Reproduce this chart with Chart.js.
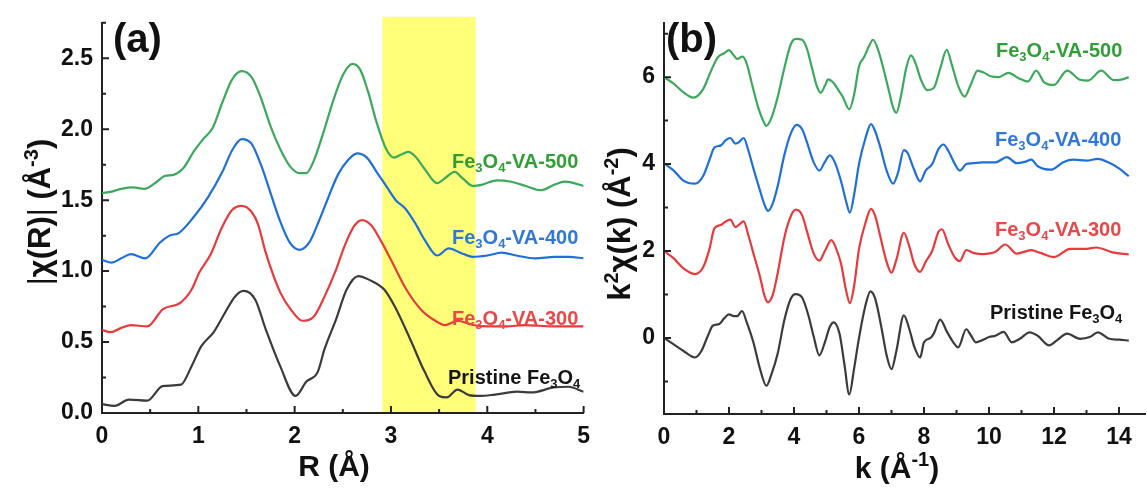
<!DOCTYPE html>
<html>
<head>
<meta charset="utf-8">
<script src="https://cdn.jsdelivr.net/npm/chart.js@4.4.1/dist/chart.umd.min.js"></script>
<style>
  html, body { margin: 0; padding: 0; background: #fff; }
  #wrap { position: relative; width: 1147px; height: 492px; overflow: hidden; }
  #wrap canvas { position: absolute; top: 0; }
  #chartR { left: 0; }
  #chartK { left: 580px; }
</style>
</head>
<body>
<div id="wrap">
  <canvas id="chartR" width="600" height="492"></canvas>
  <canvas id="chartK" width="567" height="492"></canvas>
</div>
<script>
// ---- (a) |chi(R)| curves, offset per sample ----
const R_500  = [0, 0.1, 0.2, 0.32, 0.44, 0.55, 0.65, 0.75, 0.85, 0.95, 1.05, 1.15, 1.25, 1.35, 1.45, 1.55, 1.65, 1.75, 1.85, 1.95, 2.05, 2.12, 2.2, 2.3, 2.4, 2.5, 2.6, 2.68, 2.76, 2.85, 2.95, 3.03, 3.1, 3.18, 3.25, 3.35, 3.48, 3.57, 3.66, 3.75, 3.85, 3.95, 4.1, 4.25, 4.4, 4.56, 4.7, 4.8, 4.9, 5.0];
const FT_500 = [1.55, 1.56, 1.58, 1.59, 1.58, 1.62, 1.67, 1.68, 1.73, 1.84, 1.93, 2.01, 2.19, 2.35, 2.41, 2.37, 2.22, 2.02, 1.86, 1.74, 1.69, 1.69, 1.78, 1.98, 2.2, 2.38, 2.46, 2.42, 2.27, 2.05, 1.86, 1.8, 1.82, 1.84, 1.81, 1.72, 1.62, 1.66, 1.7, 1.65, 1.6, 1.61, 1.64, 1.63, 1.6, 1.57, 1.61, 1.63, 1.62, 1.6];

const R_400  = [0, 0.1, 0.2, 0.3, 0.45, 0.6, 0.7, 0.8, 0.95, 1.1, 1.25, 1.35, 1.45, 1.55, 1.65, 1.75, 1.85, 1.95, 2.05, 2.15, 2.25, 2.35, 2.45, 2.55, 2.65, 2.75, 2.85, 2.95, 3.05, 3.15, 3.25, 3.35, 3.48, 3.6, 3.72, 3.85, 4.0, 4.15, 4.3, 4.5, 4.7, 4.85, 5.0];
const FT_400 = [1.08, 1.06, 1.09, 1.12, 1.09, 1.2, 1.25, 1.27, 1.38, 1.52, 1.7, 1.85, 1.93, 1.9, 1.75, 1.55, 1.35, 1.2, 1.15, 1.2, 1.35, 1.52, 1.68, 1.78, 1.83, 1.8, 1.7, 1.6, 1.5, 1.44, 1.34, 1.22, 1.11, 1.16, 1.13, 1.1, 1.11, 1.13, 1.11, 1.09, 1.1, 1.1, 1.09];

const R_300  = [0, 0.09, 0.2, 0.3, 0.47, 0.63, 0.82, 0.93, 1.01, 1.13, 1.24, 1.35, 1.45, 1.55, 1.62, 1.7, 1.85, 1.97, 2.08, 2.2, 2.31, 2.43, 2.52, 2.62, 2.7, 2.8, 2.89, 3.0, 3.16, 3.31, 3.46, 3.56, 3.69, 3.85, 4.0, 4.2, 4.38, 4.69, 5.0];
const FT_300 = [0.585, 0.57, 0.6, 0.62, 0.61, 0.73, 0.78, 0.87, 0.99, 1.12, 1.3, 1.43, 1.46, 1.42, 1.33, 1.13, 0.85, 0.72, 0.65, 0.68, 0.82, 1.01, 1.18, 1.32, 1.36, 1.32, 1.22, 1.08, 0.87, 0.73, 0.65, 0.62, 0.65, 0.62, 0.61, 0.61, 0.62, 0.61, 0.61];

const R_PRI  = [0, 0.13, 0.28, 0.47, 0.63, 0.82, 0.93, 1.03, 1.16, 1.28, 1.38, 1.47, 1.59, 1.7, 1.85, 2.01, 2.12, 2.24, 2.31, 2.43, 2.54, 2.66, 2.77, 2.93, 3.04, 3.2, 3.35, 3.5, 3.58, 3.69, 3.81, 3.92, 4.08, 4.31, 4.46, 4.69, 4.84, 5.0];
const FT_PRI = [0.063, 0.05, 0.094, 0.087, 0.19, 0.2, 0.33, 0.47, 0.57, 0.71, 0.82, 0.86, 0.8, 0.59, 0.33, 0.12, 0.22, 0.29, 0.45, 0.66, 0.87, 0.965, 0.94, 0.87, 0.75, 0.52, 0.29, 0.12, 0.11, 0.165, 0.126, 0.12, 0.13, 0.15, 0.145, 0.18, 0.185, 0.15];

const R_TICKS  = [0, 1, 2, 3, 4, 5];
const R_MINOR  = [0.5, 1.5, 2.5, 3.5, 4.5];
const FT_TICKS = [0, 0.5, 1, 1.5, 2, 2.5];
const FT_MINOR = [0.25, 0.75, 1.25, 1.75, 2.25, 2.75];
const R_BAND   = [2.91, 3.88];

// ---- (b) k^2 chi(k) curves, offset per sample ----
const K_500    = [0, 0.3, 0.6, 0.9, 1.2, 1.45, 1.65, 1.85, 2.0, 2.15, 2.25, 2.42, 2.55, 2.7, 2.9, 3.05, 3.15, 3.3, 3.5, 3.7, 3.9, 4.05, 4.25, 4.4, 4.55, 4.7, 4.82, 4.95, 5.05, 5.2, 5.35, 5.5, 5.7, 5.85, 6.0, 6.15, 6.3, 6.43, 6.6, 6.75, 6.9, 7.05, 7.15, 7.3, 7.45, 7.6, 7.75, 7.9, 8.1, 8.3, 8.5, 8.7, 8.85, 9.05, 9.25, 9.45, 9.65, 9.85, 10.05, 10.3, 10.6, 10.9, 11.2, 11.45, 11.7, 12.0, 12.4, 12.8, 13.05, 13.45, 13.85, 14.1, 14.3];
const KCHI_500 = [6.0, 5.85, 5.65, 5.53, 5.72, 6.15, 6.45, 6.55, 6.62, 6.5, 6.42, 6.47, 6.3, 5.86, 5.3, 5.0, 4.88, 5.05, 5.55, 6.2, 6.75, 6.88, 6.86, 6.65, 6.22, 5.8, 5.64, 5.8, 5.95, 5.88, 5.72, 5.55, 5.26, 5.6, 6.25, 6.45, 6.7, 6.86, 6.6, 6.2, 5.75, 5.3, 5.18, 5.6, 6.2, 6.5, 6.3, 5.95, 5.7, 5.75, 6.2, 6.63, 6.3, 5.8, 5.55, 5.85, 6.15, 6.1, 6.02, 6.0, 6.1, 5.98, 5.9, 6.15, 5.88, 5.82, 6.15, 5.94, 5.92, 6.15, 5.93, 5.95, 6.0];

const K_400    = [0, 0.3, 0.6, 0.95, 1.2, 1.4, 1.55, 1.75, 1.9, 2.04, 2.2, 2.3, 2.45, 2.6, 2.75, 2.95, 3.1, 3.2, 3.35, 3.5, 3.7, 3.9, 4.08, 4.25, 4.4, 4.6, 4.78, 4.95, 5.1, 5.25, 5.45, 5.6, 5.72, 5.85, 6.0, 6.2, 6.37, 6.5, 6.65, 6.85, 7.05, 7.2, 7.38, 7.5, 7.68, 7.88, 8.05, 8.25, 8.45, 8.6, 8.75, 8.95, 9.1, 9.3, 9.5, 9.8, 10.2, 10.55, 10.85, 11.1, 11.3, 11.5, 11.9, 12.3, 12.6, 13.0, 13.35, 13.7, 14.0, 14.3];
const KCHI_400 = [4.02, 3.85, 3.62, 3.55, 3.72, 4.1, 4.38, 4.43, 4.55, 4.6, 4.47, 4.5, 4.6, 4.3, 3.9, 3.4, 3.05, 2.92, 3.1, 3.5, 4.2, 4.7, 4.9, 4.8, 4.5, 4.05, 3.85, 4.05, 4.2, 4.05, 3.6, 3.15, 2.88, 3.3, 4.0, 4.6, 4.92, 4.75, 4.4, 3.85, 3.55, 3.8, 4.32, 4.25, 3.9, 3.6, 3.85, 4.0, 4.35, 4.45, 4.3, 4.0, 3.85, 4.0, 4.02, 4.04, 4.04, 4.16, 4.02, 4.05, 4.1, 3.95, 3.87, 4.05, 4.1, 4.08, 4.12, 4.03, 3.9, 3.72];

const K_300    = [0, 0.3, 0.6, 0.95, 1.2, 1.4, 1.55, 1.75, 1.9, 2.04, 2.2, 2.3, 2.45, 2.6, 2.75, 2.95, 3.1, 3.2, 3.35, 3.5, 3.7, 3.9, 4.06, 4.25, 4.4, 4.6, 4.78, 4.95, 5.15, 5.3, 5.45, 5.6, 5.72, 5.85, 6.0, 6.2, 6.37, 6.5, 6.65, 6.85, 7.0, 7.15, 7.38, 7.55, 7.7, 7.88, 8.05, 8.25, 8.45, 8.55, 8.75, 8.95, 9.1, 9.3, 9.55, 9.8, 10.2, 10.5, 10.85, 11.3, 11.6, 12.0, 12.5, 13.0, 13.3, 13.8, 14.3];
const KCHI_300 = [2.0, 1.83, 1.6, 1.47, 1.62, 2.05, 2.52, 2.6, 2.68, 2.72, 2.55, 2.6, 2.68, 2.35, 1.95, 1.42, 0.95, 0.82, 1.0, 1.5, 2.3, 2.8, 2.95, 2.82, 2.45, 1.95, 1.78, 2.0, 2.25, 2.05, 1.7, 1.1, 0.8, 1.2, 2.05, 2.65, 2.97, 2.8, 2.35, 1.75, 1.5, 1.8, 2.42, 2.1, 1.7, 1.52, 1.75, 2.0, 2.45, 2.5, 2.15, 1.85, 1.77, 2.02, 1.95, 1.93, 1.98, 2.15, 1.94, 2.02, 1.95, 1.86, 2.05, 2.05, 2.08, 1.97, 1.92];

const K_PRI    = [0, 0.3, 0.6, 0.95, 1.15, 1.35, 1.5, 1.7, 1.85, 2.0, 2.15, 2.25, 2.4, 2.55, 2.75, 2.95, 3.15, 3.3, 3.5, 3.7, 3.9, 4.05, 4.25, 4.45, 4.6, 4.78, 4.95, 5.1, 5.22, 5.4, 5.55, 5.7, 5.85, 6.0, 6.2, 6.35, 6.5, 6.7, 6.85, 7.0, 7.15, 7.38, 7.55, 7.7, 7.88, 8.0, 8.2, 8.3, 8.5, 8.7, 8.9, 9.05, 9.3, 9.45, 9.6, 9.8, 10.0, 10.2, 10.45, 10.7, 10.95, 11.25, 11.5, 11.85, 12.1, 12.4, 12.8, 13.1, 13.35, 13.7, 14.0, 14.3];
const KCHI_PRI = [0.0, -0.15, -0.3, -0.45, -0.3, 0.05, 0.28, 0.32, 0.45, 0.54, 0.5, 0.5, 0.62, 0.35, -0.1, -0.7, -1.1, -0.85, -0.35, 0.4, 0.9, 1.01, 0.93, 0.5, 0.05, -0.4, -0.1, 0.25, 0.36, 0.1, -0.6, -1.3, -0.7, 0.0, 0.75, 1.07, 0.9, 0.2, -0.4, -0.72, -0.3, 0.52, 0.2, -0.2, -0.45, -0.1, 0.0, 0.1, 0.42, 0.15, -0.1, -0.22, 0.2, 0.05, -0.1, -0.05, 0.02, 0.05, 0.14, -0.1, -0.02, 0.13, 0.05, -0.17, -0.05, 0.1, -0.02, 0.02, 0.13, -0.02, -0.04, -0.06];

const K_TICKS    = [0, 2, 4, 6, 8, 10, 12, 14];
const K_MINOR    = [1, 3, 5, 7, 9, 11, 13];
const KCHI_TICKS = [0, 2, 4, 6];
const KCHI_MINOR = [-1, 1, 3, 5, 7];

const COLORS = { va500: '#3ca85c', va400: '#1e6fd8', va300: '#e63a3c', pristine: '#3b3b3b' };
const TEXT_COLORS = { va500: '#2f9f35', va400: '#2f78d8', va300: '#e84848', pristine: '#151515' };

const FONT = '"Liberation Sans", Arial, sans-serif';
const AXIS = '#222';

// rich text: parts are [text, kind] with kind '', 'sup', 'sub' or 'thin'
function drawRich(ctx, parts, x, y, size, color, align, rotate) {
  ctx.save();
  ctx.translate(x, y);
  if (rotate) ctx.rotate(-Math.PI / 2);
  ctx.fillStyle = color;
  ctx.textBaseline = 'alphabetic';
  ctx.textAlign = 'left';
  const fontFor = k => {
    const s = (k === 'sup' || k === 'sub') ? Math.round(size * 0.65) : size;
    return (k === 'thin' ? 'normal ' : 'bold ') + s + 'px ' + FONT;
  };
  let total = 0;
  parts.forEach(([t, k]) => { ctx.font = fontFor(k); total += ctx.measureText(t).width; });
  let cx = align === 'center' ? -total / 2 : (align === 'right' ? -total : 0);
  parts.forEach(([t, k]) => {
    ctx.font = fontFor(k);
    const dy = k === 'sup' ? -size * 0.4 : (k === 'sub' ? size * 0.22 : 0);
    ctx.fillText(t, cx, dy);
    cx += ctx.measureText(t).width;
  });
  ctx.restore();
}

const feLabel = tail => [['Fe', ''], ['3', 'sub'], ['O', ''], ['4', 'sub'], [tail, '']];
const pristineLabel = [['Pristine Fe', ''], ['3', 'sub'], ['O', ''], ['4', 'sub']];

// band, inward tick marks and all free text
const decor = {
  id: 'decor',
  beforeDraw(chart, args, opts) {
    if (!opts.band) return;
    const ctx = chart.ctx, a = chart.chartArea, xs = chart.scales.x;
    const l = xs.getPixelForValue(opts.band[0]), r = xs.getPixelForValue(opts.band[1]);
    ctx.save();
    ctx.fillStyle = '#ffff7a';
    ctx.fillRect(l, a.top - 6, r - l, a.bottom - a.top + 5);
    ctx.restore();
  },
  afterDraw(chart, args, opts) {
    const ctx = chart.ctx, a = chart.chartArea, xs = chart.scales.x, ys = chart.scales.y;
    ctx.save();
    ctx.strokeStyle = AXIS;
    ctx.lineWidth = 2;
    ctx.beginPath();
    opts.xMajor.forEach(v => { const p = xs.getPixelForValue(v); ctx.moveTo(p, a.bottom); ctx.lineTo(p, a.bottom - 7); });
    opts.xMinor.forEach(v => { const p = xs.getPixelForValue(v); ctx.moveTo(p, a.bottom); ctx.lineTo(p, a.bottom - 4); });
    opts.yMajor.forEach(v => { const p = ys.getPixelForValue(v); ctx.moveTo(a.left, p); ctx.lineTo(a.left + 7, p); });
    opts.yMinor.forEach(v => { const p = ys.getPixelForValue(v); ctx.moveTo(a.left, p); ctx.lineTo(a.left + 4, p); });
    ctx.stroke();
    ctx.restore();
    opts.texts.forEach(t => drawRich(ctx, t.parts, t.x, t.y, t.size, t.color, t.align, t.rotate));
  }
};

function buildChart(id, o) {
  const datasets = o.series.map(s => ({
    data: s.x.map((x, i) => ({ x, y: s.y[i] })),
    borderColor: s.color,
    borderWidth: 2.2,
    pointRadius: 0,
    cubicInterpolationMode: 'monotone',
    fill: false
  }));
  const tickFont = { family: FONT, size: 23, weight: 'bold' };
  return new Chart(document.getElementById(id), {
    type: 'line',
    data: { datasets },
    plugins: [decor],
    options: {
      responsive: false,
      animation: false,
      events: [],
      layout: { padding: o.padding },
      plugins: { legend: { display: false }, tooltip: { enabled: false }, decor: o.decor },
      scales: {
        x: {
          type: 'linear', min: o.xRange[0], max: o.xRange[1],
          afterBuildTicks: sc => { sc.ticks = o.xTicks.map(v => ({ value: v })); },
          afterFit: sc => { sc.height = o.xAxisHeight; },
          grid: { display: false, drawTicks: false },
          border: { display: true, color: AXIS, width: 2 },
          ticks: { font: tickFont, color: '#111', padding: 10, maxRotation: 0, autoSkip: false, callback: o.xFmt }
        },
        y: {
          type: 'linear', min: o.yRange[0], max: o.yRange[1],
          afterBuildTicks: sc => { sc.ticks = o.yTicks.map(v => ({ value: v })); },
          afterFit: sc => { sc.width = o.yAxisWidth; },
          grid: { display: false, drawTicks: false },
          border: { display: true, color: AXIS, width: 2 },
          ticks: { font: tickFont, color: '#111', padding: 9, autoSkip: false, callback: o.yFmt }
        }
      }
    }
  });
}

// (a) Fourier transform magnitude
buildChart('chartR', {
  series: [
    { x: R_PRI, y: FT_PRI, color: COLORS.pristine },
    { x: R_300, y: FT_300, color: COLORS.va300 },
    { x: R_400, y: FT_400, color: COLORS.va400 },
    { x: R_500, y: FT_500, color: COLORS.va500 }
  ],
  padding: { top: 22, right: 14, bottom: 0, left: 0 },
  xRange: [0, 5], yRange: [0, 2.75],
  xTicks: R_TICKS, yTicks: FT_TICKS,
  xAxisHeight: 79, yAxisWidth: 102,
  xFmt: v => String(v), yFmt: v => v.toFixed(1),
  decor: {
    band: R_BAND,
    xMajor: R_TICKS, xMinor: R_MINOR, yMajor: FT_TICKS, yMinor: FT_MINOR,
    texts: [
      { parts: [['(a)', '']], x: 113, y: 52, size: 40, color: '#111', align: 'left' },
      { parts: feLabel('-VA-500'), x: 452, y: 168, size: 20, color: TEXT_COLORS.va500, align: 'left' },
      { parts: feLabel('-VA-400'), x: 452, y: 244, size: 20, color: TEXT_COLORS.va400, align: 'left' },
      { parts: feLabel('-VA-300'), x: 452, y: 325, size: 20, color: TEXT_COLORS.va300, align: 'left' },
      { parts: pristineLabel, x: 448, y: 384, size: 20, color: TEXT_COLORS.pristine, align: 'left' },
      { parts: [['R (Å)', '']], x: 334, y: 476, size: 30, color: '#111', align: 'center' },
      { parts: [['|', 'thin'], ['χ(R)', ''], ['|', 'thin'], [' (Å', ''], ['-3', 'sup'], [')', '']],
        x: 50, y: 212, size: 31, color: '#111', align: 'center', rotate: true }
    ]
  }
});

// (b) k-weighted oscillations
buildChart('chartK', {
  series: [
    { x: K_PRI, y: KCHI_PRI, color: COLORS.pristine },
    { x: K_300, y: KCHI_300, color: COLORS.va300 },
    { x: K_400, y: KCHI_400, color: COLORS.va400 },
    { x: K_500, y: KCHI_500, color: COLORS.va500 }
  ],
  padding: { top: 22, right: 2, bottom: 0, left: 0 },
  xRange: [0, 14.8], yRange: [-1.75, 7.25],
  xTicks: K_TICKS, yTicks: KCHI_TICKS,
  xAxisHeight: 78, yAxisWidth: 84,
  xFmt: v => String(v), yFmt: v => String(v),
  decor: {
    xMajor: K_TICKS, xMinor: K_MINOR, yMajor: KCHI_TICKS, yMinor: KCHI_MINOR,
    texts: [
      { parts: [['(b)', '']], x: 86, y: 52, size: 40, color: '#111', align: 'left' },
      { parts: feLabel('-VA-500'), x: 416, y: 57, size: 20, color: TEXT_COLORS.va500, align: 'left' },
      { parts: feLabel('-VA-400'), x: 415, y: 146, size: 20, color: TEXT_COLORS.va400, align: 'left' },
      { parts: feLabel('-VA-300'), x: 415, y: 236, size: 20, color: TEXT_COLORS.va300, align: 'left' },
      { parts: pristineLabel, x: 410, y: 319, size: 20, color: TEXT_COLORS.pristine, align: 'left' },
      { parts: [['k (Å', ''], ['-1', 'sup'], [')', '']], x: 317, y: 478, size: 30, color: '#111', align: 'center' },
      { parts: [['k', ''], ['2', 'sup'], ['χ(k) (Å', ''], ['-2', 'sup'], [')', '']],
        x: 50, y: 224, size: 31, color: '#111', align: 'center', rotate: true }
    ]
  }
});
</script>
</body>
</html>
